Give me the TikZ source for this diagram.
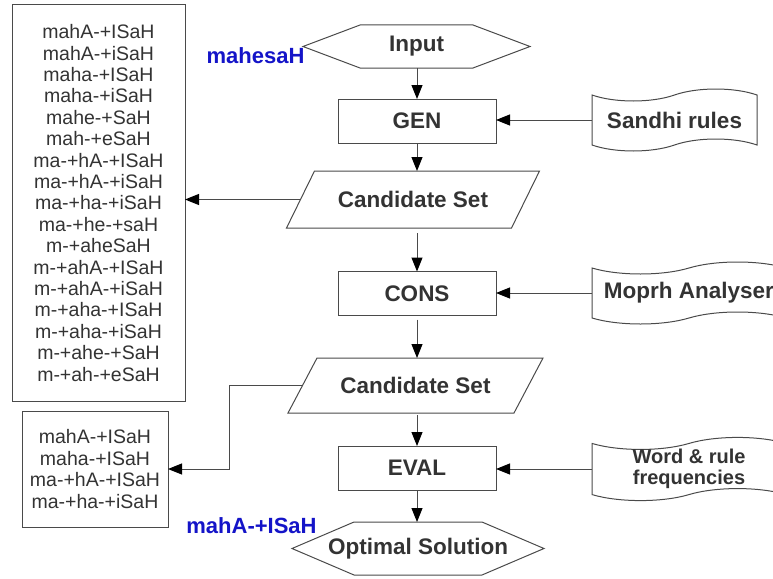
\documentclass[tikz,border=0pt]{standalone}
\usepackage{fontspec}
\setmainfont{Liberation Sans}
\usetikzlibrary{arrows.meta,shapes.symbols,calc}
\definecolor{txt}{HTML}{333333}
\definecolor{ln}{HTML}{4A4A4A}
\definecolor{lblue}{HTML}{1414C8}
\begin{document}
\begin{tikzpicture}[x=1pt,y=-1pt,
  lbl/.style={font=\fontsize{22.5}{24}\selectfont\bfseries, text=txt},
  shapeline/.style={draw=ln, line width=1pt},
  procbox/.style={shapeline, lbl, minimum width=158pt, minimum height=44pt, inner sep=0pt, outer sep=0pt},
  ghost/.style={lbl, inner sep=0pt, outer sep=0pt},
  tapebox/.style={tape, shapeline, lbl, tape bend height=12pt, inner sep=0pt, outer sep=0pt, align=center},
  listbox/.style={shapeline, font=\fontsize{19.5}{21.4}\selectfont, text=txt, align=center, inner sep=0pt, outer sep=0pt},
  bluelbl/.style={font=\fontsize{22}{24}\selectfont\bfseries, text=lblue},
  conn/.style={draw=ln, line width=1pt, -{Triangle[length=14pt,width=11pt,color=black]}}
]
\useasboundingbox (0,0) rectangle (773,578);
\clip (0,0) rectangle (773,578);

% central column
\node[ghost, minimum width=227pt, minimum height=43pt] (input) at (416.5,46.5) {Input};
\draw[shapeline] (input.west) -- ($(input.north west)+(57,0)$) -- ($(input.north east)+(-57,0)$)
  -- (input.east) -- ($(input.south east)+(-57,0)$) -- ($(input.south west)+(57,0)$) -- cycle;

\node[procbox] (gen) at (417,121) {GEN};

\node[ghost, minimum width=225pt, minimum height=57pt] (cand1) at (413,199.5) {Candidate Set};
\draw[shapeline] ($(cand1.south west)+(-14,0)$) -- ($(cand1.north west)+(14,0)$)
  -- ($(cand1.north east)+(14,0)$) -- ($(cand1.south east)+(-14,0)$) -- cycle;

\node[procbox] (cons) at (417,293.5) {CONS};

\node[ghost, minimum width=226pt, minimum height=55pt] (cand2) at (415.5,385.5) {Candidate Set};
\draw[shapeline] ($(cand2.south west)+(-14.5,0)$) -- ($(cand2.north west)+(14.5,0)$)
  -- ($(cand2.north east)+(14.5,0)$) -- ($(cand2.south east)+(-14.5,0)$) -- cycle;

\node[procbox] (eval) at (417,468) {EVAL};

\node[ghost, minimum width=252pt, minimum height=53pt] (opt) at (418,548.5) {Optimal Solution};
\draw[shapeline] (opt.west) -- ($(opt.north west)+(62,0)$) -- ($(opt.north east)+(-62,0)$)
  -- (opt.east) -- ($(opt.south east)+(-62,0)$) -- ($(opt.south west)+(62,0)$) -- cycle;

% side sources
\node[tapebox, minimum width=165pt, minimum height=62pt] (sandhi) at (674.5,120) {Sandhi rules};
\node[tapebox, minimum width=194pt, minimum height=62pt] (morph) at (689,293) {Moprh Analyser};
\node[tapebox, minimum width=194pt, minimum height=62pt, font=\fontsize{20}{20.5}\selectfont\bfseries] (freq) at (689,469) {Word \& rule\\frequencies};

% candidate lists
\node[listbox, minimum width=173pt, minimum height=396pt] (list1) at (98.5,203) {mahA-+ISaH\\mahA-+iSaH\\maha-+ISaH\\maha-+iSaH\\mahe-+SaH\\mah-+eSaH\\ma-+hA-+ISaH\\ma-+hA-+iSaH\\ma-+ha-+iSaH\\ma-+he-+saH\\m-+aheSaH\\m-+ahA-+ISaH\\m-+ahA-+iSaH\\m-+aha-+ISaH\\m-+aha-+iSaH\\m-+ahe-+SaH\\m-+ah-+eSaH};
\node[listbox, minimum width=146pt, minimum height=116pt] (list2) at (95,469) {mahA-+ISaH\\maha-+ISaH\\ma-+hA-+ISaH\\ma-+ha-+iSaH};

% blue labels
\node[bluelbl] (inword) at (255.5,55.5) {mahesaH};
\node[bluelbl] (outword) at (251.5,526) {mahA-+ISaH};

% connectors
\draw[conn] (input.south -| gen.north) -- (gen.north);
\draw[conn] (gen.south) -- (gen.south |- cand1.north);
\draw[conn, shorten <=5pt] (cand1.south -| cons.north) -- (cons.north);
\draw[conn, shorten <=4pt] (cons.south) -- (cons.south |- cand2.north);
\draw[conn, shorten <=2pt] (cand2.south -| eval.north) -- (eval.north);
\draw[conn] (eval.south) -- (eval.south |- opt.north);
\draw[conn] (sandhi.west) -- (sandhi.west -| gen.east);
\draw[conn] (morph.west) -- (morph.west -| cons.east);
\draw[conn] (freq.west) -- (freq.west -| eval.east);
\draw[conn] (cand1.west) -- (cand1.west -| list1.east);
\coordinate (bend) at (229,385.5);
\draw[conn] (cand2.west) -- (bend) |- (list2.east);
\end{tikzpicture}
\end{document}
